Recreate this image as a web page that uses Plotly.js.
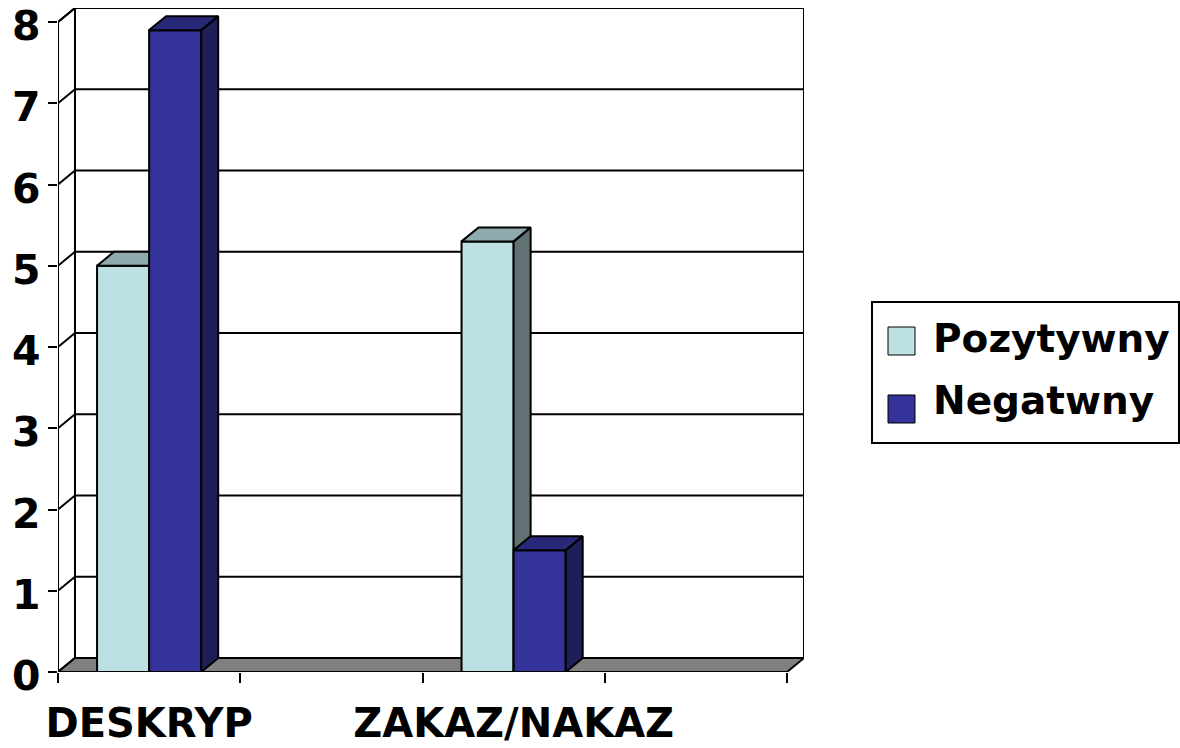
<!DOCTYPE html>
<html>
<head>
<meta charset="utf-8">
<script src="https://cdn.plot.ly/plotly-3.0.1.min.js"></script>
<style>
  html, body { margin: 0; padding: 0; background: #ffffff; }
  #chart { width: 1180px; height: 748px; }
</style>
</head>
<body>
<div id="chart"></div>
<script>
// ---- data ----
const categories = ["DESKRYP", "ZAKAZ/NAKAZ"];
const seriesNames = ["Pozytywny", "Negatwny"];
const pozytywny = [5, 5.3];
const negatywny = [7.9, 1.5];
const yTickValues = [0, 1, 2, 3, 4, 5, 6, 7, 8];

// ---- styling / geometry ----
const FONT = "DejaVu Sans";
const colors = {
  Pozytywny: { front: "rgb(188,224,228)", top: "rgb(142,170,172)", side: "rgb(96,114,116)" },
  Negatwny:  { front: "rgb(51,51,153)",   top: "rgb(40,40,120)",   side: "rgb(30,30,88)" }
};
const PLOT = { l: 58, t: 8, w: 746, h: 664 };
const W = 1180, H = 748;
const nSlots = 4;          // category slots along the floor (labels on every other slot)
const yMax = 8;
const depthPx = { x: 17, y: 14 };
const sx = (PLOT.w - depthPx.x) / nSlots;
const sy = (PLOT.h - depthPx.y) / yMax;
const DX = depthPx.x / sx, DY = depthPx.y / sy;
const gapWidth = 1.5;
const bw = 1 / (2 + gapWidth);
const slotOf = i => 2 * i + 0.5;
const slotCenters = categories.map((c, i) => slotOf(i));

const LINE = { color: "#000000", width: 2 };

// ---- background walls / floor / gridlines (shapes) ----
const shapes = [];
shapes.push({ type: "rect", xref: "x", yref: "y", layer: "below",
  x0: DX, x1: nSlots + DX, y0: DY, y1: yMax + DY, fillcolor: "#ffffff", line: LINE });
shapes.push({ type: "path", xref: "x", yref: "y", layer: "below",
  path: `M0,0 L0,${yMax} L${DX},${yMax + DY} L${DX},${DY} Z`, fillcolor: "#ffffff", line: LINE });
yTickValues.forEach(v => {
  if (v > 0 && v < yMax) {
    shapes.push({ type: "line", xref: "x", yref: "y", layer: "below",
      x0: DX, x1: nSlots + DX, y0: v + DY, y1: v + DY, line: LINE });
  }
  shapes.push({ type: "line", xref: "x", yref: "y", layer: "below",
    x0: 0, x1: DX, y0: v, y1: v + DY, line: LINE });
});
shapes.push({ type: "path", xref: "x", yref: "y", layer: "below",
  path: `M0,0 L${nSlots},0 L${nSlots + DX},${DY} L${DX},${DY} Z`, fillcolor: "#808080", line: LINE });
shapes.push({ type: "line", xref: "x", yref: "y", layer: "below",
  x0: 0, x1: 0, y0: 0, y1: yMax, line: LINE });

// ---- bars ----
function faces(values, sIdx) {
  const top = { x: [], y: [] }, side = { x: [], y: [] };
  values.forEach((v, i) => {
    const x0 = slotOf(i) - bw + sIdx * bw, x1 = x0 + bw;
    top.x.push(x0, x1, x1 + DX, x0 + DX, x0, null);
    top.y.push(v, v, v + DY, v + DY, v, null);
    side.x.push(x1, x1 + DX, x1 + DX, x1, x1, null);
    side.y.push(0, DY, v + DY, v, 0, null);
  });
  return { top, side };
}

const traces = [];
[[pozytywny, 0, "x", "y"], [negatywny, 1, "x2", "y2"]].forEach(([vals, s, xa, ya]) => {
  const name = seriesNames[s];
  const c = colors[name];
  traces.push({
    type: "bar", name: name, x: slotCenters, y: vals, width: bw, offset: s === 0 ? -bw : 0,
    marker: { color: c.front, line: LINE }, xaxis: xa, yaxis: ya, showlegend: false,
    hovertemplate: name + ": %{y}<extra></extra>"
  });
  const f = faces(vals, s);
  traces.push({ type: "scatter", mode: "lines", x: f.side.x, y: f.side.y, fill: "toself",
    fillcolor: c.side, line: LINE, xaxis: xa, yaxis: ya, showlegend: false, hoverinfo: "skip" });
  traces.push({ type: "scatter", mode: "lines", x: f.top.x, y: f.top.y, fill: "toself",
    fillcolor: c.top, line: LINE, xaxis: xa, yaxis: ya, showlegend: false, hoverinfo: "skip" });
});

// ---- manual legend (paper coords from pixels) ----
const px = x => (x - PLOT.l) / PLOT.w;
const py = y => (PLOT.t + PLOT.h - y) / PLOT.h;
shapes.push({ type: "rect", xref: "paper", yref: "paper", layer: "above",
  x0: px(872), x1: px(1179), y0: py(443), y1: py(302), fillcolor: "rgba(0,0,0,0)",
  line: { color: "#000000", width: 2 } });
const annotations = [];
const legendRows = [{ y: 341, ty: 338 }, { y: 409, ty: 400 }];
seriesNames.forEach((n, k) => {
  const r = legendRows[k];
  shapes.push({ type: "rect", xref: "paper", yref: "paper", layer: "above",
    x0: px(888), x1: px(915), y0: py(r.y + 14), y1: py(r.y - 14),
    fillcolor: colors[n].front, line: { color: "#000000", width: 1 } });
  annotations.push({ xref: "paper", yref: "paper", x: px(931), y: py(r.ty), xanchor: "left",
    yanchor: "middle", text: n, showarrow: false,
    font: { family: FONT, size: 39, color: "#000000", weight: "bold" } });
});

// y tick labels as annotations so the top label ("8") is never dropped
yTickValues.forEach(v => {
  annotations.push({ xref: "paper", yref: "y", x: px(43), y: v, xanchor: "right", yanchor: "middle",
    yshift: -4, text: String(v), showarrow: false,
    font: { family: FONT, size: 41, color: "#000000", weight: "bold" } });
});

const layout = {
  width: W, height: H,
  margin: { l: PLOT.l, r: W - PLOT.l - PLOT.w, t: PLOT.t, b: H - PLOT.t - PLOT.h, pad: 0 },
  paper_bgcolor: "#ffffff", plot_bgcolor: "#ffffff",
  showlegend: false, barmode: "overlay",
  xaxis: {
    range: [0, nSlots + DX], tickmode: "array", tickvals: [0, 1, 2, 3, 4], ticktext: ["", "", "", "", ""],
    ticks: "outside", ticklen: 10, tickwidth: 2, tickcolor: "#000000",
    showgrid: false, zeroline: false, showline: false, fixedrange: true
  },
  xaxis2: {
    overlaying: "x", anchor: "y", side: "bottom", range: [0, nSlots + DX],
    tickmode: "array", tickvals: slotCenters, ticktext: categories, ticks: "",
    ticklabelstandoff: 24,
    tickfont: { family: FONT, size: 40, color: "#000000", weight: "bold" },
    showgrid: false, zeroline: false, showline: false, fixedrange: true
  },
  yaxis: {
    range: [0, yMax + DY], tickmode: "array", tickvals: yTickValues,
    ticktext: yTickValues.map(() => ""),
    ticks: "outside", ticklen: 9, tickwidth: 2, tickcolor: "#000000",
    showgrid: false, zeroline: false, showline: false, fixedrange: true
  },
  yaxis2: {
    overlaying: "y", range: [0, yMax + DY], showticklabels: false, ticks: "",
    showgrid: false, zeroline: false, showline: false, fixedrange: true
  },
  shapes: shapes,
  annotations: annotations
};

Plotly.newPlot("chart", traces, layout, { displayModeBar: false, staticPlot: true });
</script>
</body>
</html>
